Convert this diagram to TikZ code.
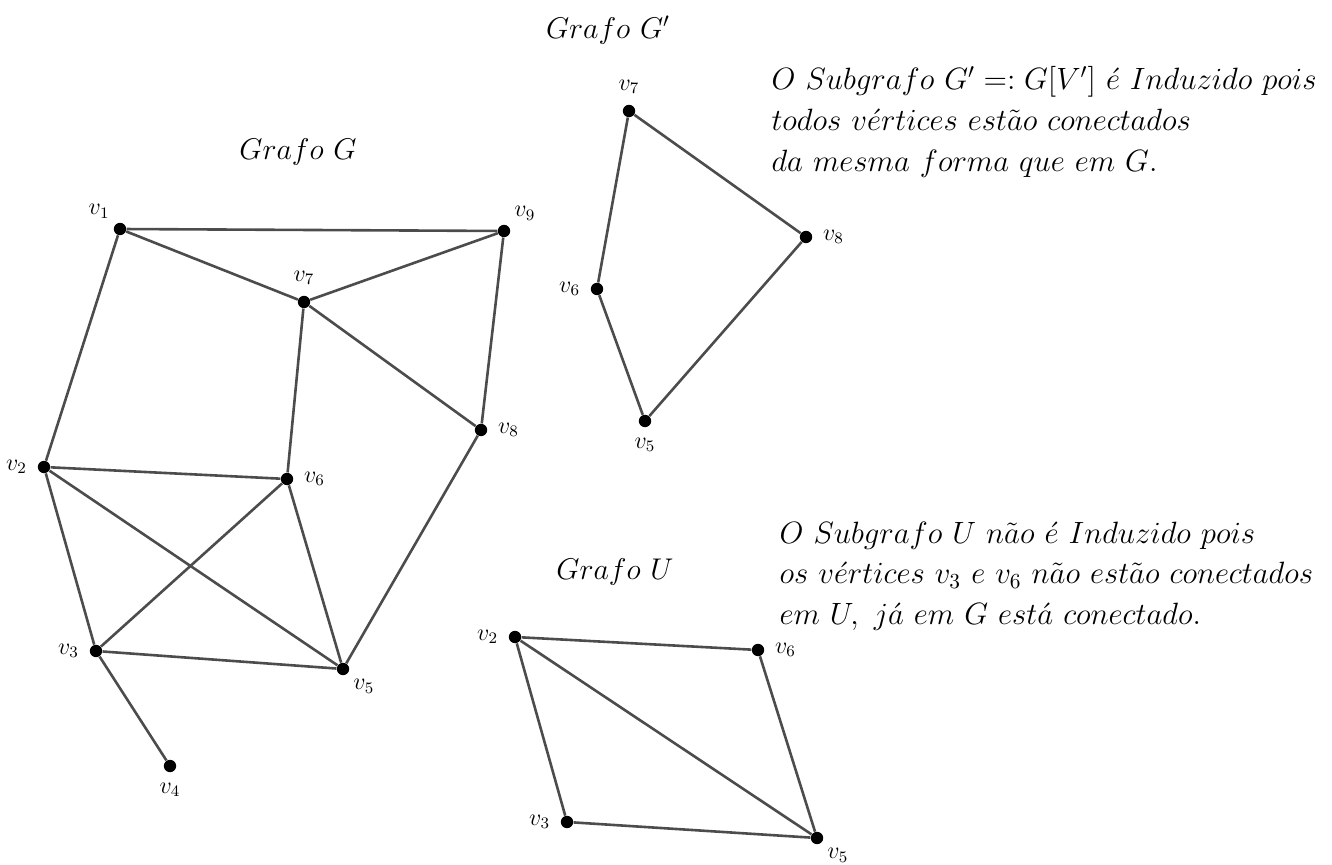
\documentclass[tikz,border=0pt]{standalone}
\usepackage{amsmath}
\begin{document}
\begin{tikzpicture}[
    x=0.5pt, y=-0.5pt,
    vertex/.style={circle, fill=black, inner sep=0pt, minimum size=6.2pt},
    every label/.style={font=\large, inner sep=2pt},
    label distance=3pt,
    edge/.style={draw=black!70, line width=1.3pt},
    title/.style={font=\Large, scale=1.04},
    note/.style={font=\Large, scale=1.07, anchor=west, align=left}
]
\useasboundingbox (0,0) rectangle (1332,865);
% Grafo G
\node[title] (tG) at (298,152) {$Grafo\ G$};
\node[vertex, label={[label distance=1pt]above left:$v_1$}] (g1) at (120,229) {};
\node[vertex, label=left:$v_2$] (g2) at (44,467) {};
\node[vertex, label=left:$v_3$] (g3) at (96,651) {};
\node[vertex, label=below:$v_4$] (g4) at (170,766) {};
\node[vertex, label={[label distance=1pt]below right:$v_5$}] (g5) at (343,669) {};
\node[vertex, label=right:$v_6$] (g6) at (287,479) {};
\node[vertex, label=above:$v_7$] (g7) at (304,302) {};
\node[vertex, label=right:$v_8$] (g8) at (481,430) {};
\node[vertex, label={[label distance=1pt]above right:$v_9$}] (g9) at (504,231) {};
\foreach \a/\b in {1/9, 1/7, 7/9, 1/2, 7/6, 7/8, 9/8, 2/6, 2/3, 2/5, 6/3, 6/5, 3/5, 3/4, 8/5}
    \draw[edge] (g\a) -- (g\b);
% Grafo G'
\node[title] (tH) at (608,30) {$Grafo\ G'$};
\node[vertex, label=left:$v_6$] (h6) at (597,289) {};
\node[vertex, label=below:$v_5$] (h5) at (645,421) {};
\node[vertex, label=above:$v_7$] (h7) at (629,111) {};
\node[vertex, label=right:$v_8$] (h8) at (806,237) {};
\foreach \a/\b in {7/8, 7/6, 6/5, 5/8}
    \draw[edge] (h\a) -- (h\b);
% Grafo U
\node[title] (tU) at (615,572) {$Grafo\ U$};
\node[vertex, label=left:$v_2$] (u2) at (515,637) {};
\node[vertex, label=left:$v_3$] (u3) at (567,822) {};
\node[vertex, label={[label distance=1pt]below right:$v_5$}] (u5) at (817,838) {};
\node[vertex, label=right:$v_6$] (u6) at (758,650) {};
\foreach \a/\b in {2/6, 2/3, 2/5, 6/5, 3/5}
    \draw[edge] (u\a) -- (u\b);
% textos
\node[note] (n1) at (764,122) {$O\ Subgrafo\ G' =: G[V']\ \acute{e}\ Induzido\ pois$\\[1pt]
    $todos\ v\acute{e}rtices\ est\tilde{a}o\ conectados$\\[1pt]
    $da\ mesma\ forma\ que\ em\ G.$};
\node[note] (n2) at (772,576) {$O\ Subgrafo\ U\ n\tilde{a}o\ \acute{e}\ Induzido\ pois$\\[1pt]
    $os\ v\acute{e}rtices\ v_3\ e\ v_6\ n\tilde{a}o\ est\tilde{a}o\ conectados$\\[1pt]
    $em\ U,\ j\acute{a}\ em\ G\ est\acute{a}\ conectado.$};
\end{tikzpicture}
\end{document}
